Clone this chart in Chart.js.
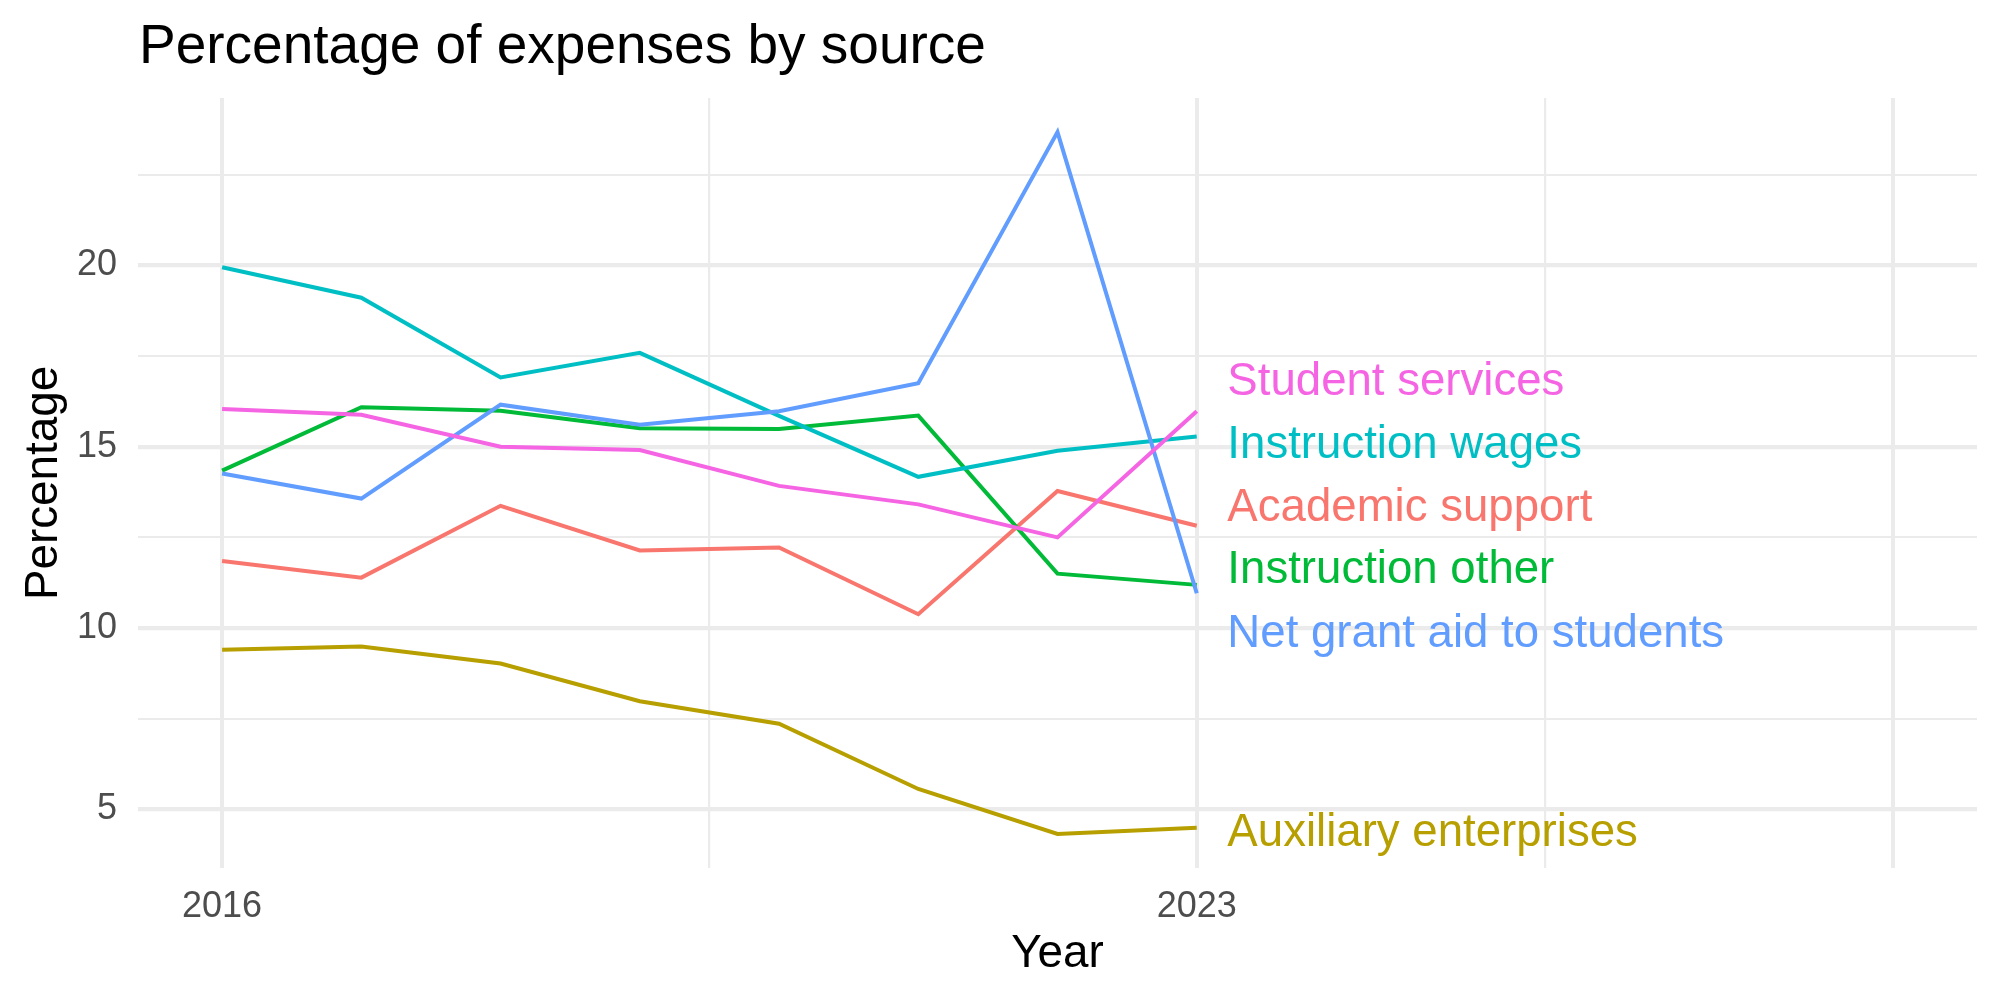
<!DOCTYPE html>
<html>
<head>
<meta charset="utf-8">
<script src="https://cdn.jsdelivr.net/npm/chart.js@4.4.1/dist/chart.umd.min.js"></script>
<style>
  html, body { margin: 0; padding: 0; background: #ffffff; }
  canvas { display: block; }
</style>
</head>
<body>
<canvas id="grafico" width="2000" height="1000"></canvas>
<script>
// Datos
const years = [2016, 2017, 2018, 2019, 2020, 2021, 2022, 2023];
const sources = ['Academic support', 'Auxiliary enterprises', 'Instruction other',
                 'Instruction wages', 'Net grant aid to students', 'Student services'];
const academicSupport = [11.85, 11.39, 13.37, 12.14, 12.22, 10.38, 13.78, 12.82];
const auxiliaryEnterprises = [9.40, 9.49, 9.02, 7.98, 7.36, 5.56, 4.32, 4.49];
const instructionOther = [14.34, 16.09, 15.99, 15.51, 15.49, 15.86, 11.50, 11.19];
const instructionWages = [19.95, 19.11, 16.91, 17.59, 15.85, 14.17, 14.89, 15.28];
const netGrantAid = [14.26, 13.57, 16.16, 15.61, 15.98, 16.75, 23.68, 10.96];
const studentServices = [16.04, 15.88, 15.00, 14.91, 13.92, 13.41, 12.50, 15.98];

// Etiquetas al final de cada línea (valor y donde quedó cada texto)
const labelYear = 2023.22;
const labelValues = [13.40, 4.44, 11.69, 15.14, 9.92, 16.89];

// Cortes de ejes
const xMajor = [2016, 2023, 2028];
const xMinor = [2019.5, 2025.5];
const xLabels = [2016, 2023];
const yMajor = [5, 10, 15, 20];
const yMinor = [7.5, 12.5, 17.5, 22.5];

const colores = ['#F8766D', '#B79F00', '#00BA38', '#00BFC4', '#619CFF', '#F564E3'];
const series = [academicSupport, auxiliaryEnterprises, instructionOther,
                instructionWages, netGrantAid, studentServices];

const FONT = "'Liberation Sans', Arial, Helvetica, sans-serif";
const GRID = '#EBEBEB';

// Título + etiquetas de texto
const textoPlugin = {
    id: 'textos',
    afterDatasetsDraw(chart) {
        const { ctx, scales: { x, y } } = chart;
        ctx.save();
        ctx.textAlign = 'left';
        ctx.textBaseline = 'alphabetic';
        ctx.font = `45.6px ${FONT}`;
        sources.forEach((nombre, i) => {
            ctx.fillStyle = colores[i];
            const px = x.getPixelForValue(labelYear);
            const py = y.getPixelForValue(labelValues[i]) + 0.358 * 45.6;
            ctx.fillText(nombre, px, py);
        });
        ctx.fillStyle = '#000000';
        ctx.font = `55px ${FONT}`;
        ctx.fillText('Percentage of expenses by source', 139, 63);
        ctx.restore();
    }
};

const ctx = document.getElementById('grafico').getContext('2d');

new Chart(ctx, {
    type: 'line',
    data: {
        datasets: sources.map((nombre, i) => ({
            label: nombre,
            data: years.map((yr, j) => ({ x: yr, y: series[i][j] })),
            borderColor: colores[i],
            backgroundColor: colores[i],
            borderWidth: 4,
            pointRadius: 0,
            tension: 0,
            fill: false,
            order: sources.length - i // ggplot dibuja el último encima
        }))
    },
    options: {
        responsive: false,
        animation: false,
        devicePixelRatio: 1,
        layout: { padding: { left: 0, right: 23, top: 98, bottom: 0 } },
        plugins: {
            legend: { display: false },
            title: { display: false },
            tooltip: { enabled: false }
        },
        scales: {
            x: {
                type: 'linear',
                min: 2015.396,
                max: 2028.604,
                afterBuildTicks: (axis) => {
                    axis.ticks = [...xMajor, ...xMinor].sort((a, b) => a - b).map(v => ({ value: v }));
                },
                afterFit: (scale) => { scale.height = 132; },
                border: { display: false },
                grid: {
                    color: GRID,
                    drawTicks: false,
                    lineWidth: (c) => xMajor.includes(c.tick.value) ? 4 : 2.2
                },
                ticks: {
                    autoSkip: false,
                    maxRotation: 0,
                    padding: 17,
                    color: '#4D4D4D',
                    font: { family: FONT, size: 36 },
                    callback: (v) => xLabels.includes(v) ? String(v) : ''
                },
                title: {
                    display: true,
                    text: 'Year',
                    color: '#000000',
                    font: { family: FONT, size: 45.8 },
                    padding: { top: 0, bottom: 18.5 }
                }
            },
            y: {
                type: 'linear',
                min: 3.38,
                max: 24.62,
                afterBuildTicks: (axis) => {
                    axis.ticks = [...yMajor, ...yMinor].sort((a, b) => a - b).map(v => ({ value: v }));
                },
                afterFit: (scale) => { scale.width = 138; },
                border: { display: false },
                grid: {
                    color: GRID,
                    drawTicks: false,
                    lineWidth: (c) => yMajor.includes(c.tick.value) ? 4.2 : 2.1
                },
                ticks: {
                    autoSkip: false,
                    padding: 21,
                    color: '#4D4D4D',
                    font: { family: FONT, size: 36 },
                    callback: (v) => yMajor.includes(v) ? String(v) : ''
                },
                title: {
                    display: true,
                    text: 'Percentage',
                    color: '#000000',
                    font: { family: FONT, size: 45.8 },
                    padding: { top: 17, bottom: 0 }
                }
            }
        }
    },
    plugins: [textoPlugin]
});
</script>
</body>
</html>
